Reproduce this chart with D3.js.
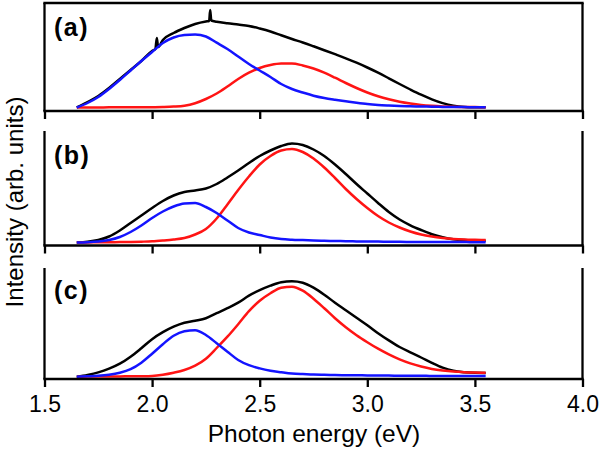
<!DOCTYPE html>
<html>
<head>
<meta charset="utf-8">
<script src="https://cdn.jsdelivr.net/npm/d3@7"></script>
<style>
  html, body { margin: 0; padding: 0; background: #fff; }
  svg { display: block; font-family: "Liberation Sans", Arial, Helvetica, sans-serif; }
</style>
</head>
<body>
<svg id="chart" width="600" height="449"></svg>
<script>
// ---------- data (intensity in arbitrary units) ----------
const energy = [1.65,1.70,1.75,1.80,1.85,1.90,1.95,2.00,2.05,2.10,2.15,2.20,2.25,2.30,2.35,2.40,2.45,2.50,2.55,2.60,2.65,2.70,2.75,2.80,2.85,2.90,2.95,3.00,3.05,3.10,3.15,3.20,3.25,3.30,3.35,3.40,3.45,3.50,3.55];

// panel (a) measured spectrum has two narrow spikes, so it carries its own energy grid
const energyBlackA = [1.65,1.70,1.75,1.80,1.85,1.90,1.95,2.00,2.015,2.022,2.028,2.05,2.10,2.15,2.20,2.25,2.265,2.27,2.275,2.30,2.35,2.40,2.45,2.50,2.55,2.60,2.65,2.70,2.75,2.80,2.85,2.90,2.95,3.00,3.05,3.10,3.15,3.20,3.25,3.30,3.35,3.40,3.45,3.50,3.55];
const blackA = [0,5.5,11.5,19.5,28.5,37.5,46.5,56.5,58.5,69.5,60.5,67.5,74.5,79.5,83.5,86,86.5,97.5,87,85.8,84.2,82.9,81.5,79,76,72.2,68.5,65,61.2,57.3,53.3,49.2,44.8,40,34.8,29.2,23.5,18,12.8,8.2,4.4,1.8,0.6,0.3,0.2];
const blueA  = [0,4.5,10.5,18.5,27.5,37,46.5,55.5,64.5,70,72.5,73,71,64.8,58.5,51,43.5,37,30.5,23.5,18.5,15,11.8,9.5,7.8,6.3,4.8,3.5,2.6,2,1.5,1.2,1,0.8,0.6,0.5,0.4,0.3,0.2];
const redA   = [0,0.1,0.1,0.15,0.2,0.2,0.25,0.3,0.5,0.9,1.8,4.3,8.5,14,21,28.5,34.8,39.5,42.5,44,44,42,39,34.8,29.8,24.5,19.5,15,11.2,8.2,5.8,4,2.6,1.7,1.1,0.7,0.5,0.4,0.3];

const blackB = [0,0.8,2.5,6,12,19.5,27,34.5,41.5,47,50.5,52,54,58.5,65,72,79.5,86.5,92,96.5,99,97.5,93,86.5,78,68.5,58.5,49,39.5,30.5,23,17.2,12.5,8.3,5.3,3.3,2.4,2,1.8];
const blueB  = [0,0.3,1,2.5,5.5,10.5,17,24.5,31,36,39,39.5,35.5,29.5,22,14.5,10,7.5,5,3.5,2.8,2.4,2,1.7,1.5,1.3,1.1,1,0.9,0.8,0.7,0.6,0.6,0.5,0.5,0.4,0.4,0.3,0.3];
const redB   = [0,0.1,0.2,0.3,0.4,0.5,0.8,1.2,2,3,4.5,8,13.5,24,38,52.5,66,78,86.5,92,93.5,90.5,84,75,64.5,53.5,43.5,34.5,26.5,20,15,11,8,6,4.6,3.6,3,2.7,2.5];

const blackC = [0,1.8,4.3,8,13,20,28.5,37.5,44.5,50,54,56,58.5,63.5,68.5,74,81,86.5,91,94.5,95.5,94,89,82,74,66.5,59,51.5,43.5,36.3,29.7,24.3,19.2,13.8,9,5.9,4.5,3.9,3.7];
const blueC  = [0,0.4,0.9,2,4,7.5,14,23,32.5,41,45.5,46.5,41.7,33.5,25,16.7,11.5,8.3,6,4.5,3.2,2.6,2.2,1.9,1.7,1.5,1.4,1.3,1.2,1.1,1,0.9,0.9,0.8,0.8,0.7,0.7,0.6,0.6];
const redC   = [0,0.1,0.15,0.2,0.3,0.4,0.5,0.8,2,4,6.7,11,18,28.7,40,52.5,65.5,76,83.5,89,90,86,78,68.5,58.5,49.5,41.5,34.5,28,22.3,17.3,13.3,10.2,7.8,6.2,5.1,4.5,4.2,4];

const panelLabels = ["(a)", "(b)", "(c)"];
const xTicks = [1.5, 2.0, 2.5, 3.0, 3.5, 4.0];
const xTitle = "Photon energy (eV)";
const yTitle = "Intensity (arb. units)";

// ---------- layout ----------
const svg = d3.select("#chart");
const x = d3.scaleLinear().domain([1.5, 4.0]).range([44.5, 582.5]);
const BLUE = "#1414ff", RED = "#ff1414", BLACK = "#000";

const panels = [
  { label: panelLabels[0], top: 3,     bottom: 111,   yDom: [-3.5, 104.5], boxTop: true,
    series: [ {e: energyBlackA, v: blackA, c: BLACK}, {e: energy, v: redA, c: RED}, {e: energy, v: blueA, c: BLUE} ],
    labelY: 35.5 },
  { label: panelLabels[1], top: 131,   bottom: 245.5, yDom: [-3, 111.5], boxTop: false,
    series: [ {e: energy, v: blackB, c: BLACK}, {e: energy, v: redB, c: RED}, {e: energy, v: blueB, c: BLUE} ],
    labelY: 163.5 },
  { label: panelLabels[2], top: 268,   bottom: 379,   yDom: [-2.3, 108.7], boxTop: false,
    series: [ {e: energy, v: blackC, c: BLACK}, {e: energy, v: redC, c: RED}, {e: energy, v: blueC, c: BLUE} ],
    labelY: 298.5 }
];

panels.forEach((p, i) => {
  const y = d3.scaleLinear().domain(p.yDom).range([p.bottom, p.top]);
  const g = svg.append("g");

  const line = d3.line()
    .x(d => x(d[0]))
    .y(d => y(d[1]))
    .curve(d3.curveMonotoneX);

  p.series.forEach(s => {
    const pts = s.e.map((e, k) => [e, s.v[k]]);
    g.append("path")
      .attr("d", line(pts))
      .attr("fill", "none")
      .attr("stroke", s.c)
      .attr("stroke-width", 2.5)
      .attr("stroke-linejoin", "round");
  });

  // frame: left & right sides
  [x.range()[0], x.range()[1]].forEach(px => {
    g.append("line")
      .attr("x1", px).attr("x2", px)
      .attr("y1", p.top).attr("y2", p.bottom)
      .attr("stroke", "#000").attr("stroke-width", 2.3);
  });
  if (p.boxTop) {
    g.append("line")
      .attr("x1", x.range()[0] - 1.15).attr("x2", x.range()[1] + 1.15)
      .attr("y1", p.top).attr("y2", p.top)
      .attr("stroke", "#000").attr("stroke-width", 2.3);
  }

  // bottom axis
  const axis = d3.axisBottom(x)
    .tickValues(xTicks)
    .tickSize(8)
    .tickSizeOuter(0)
    .tickFormat(i === 2 ? d3.format(".1f") : () => "");
  const ag = svg.append("g")
    .attr("transform", `translate(0,${p.bottom})`)
    .call(axis);
  ag.select(".domain").attr("stroke", "#000").attr("stroke-width", 2.3)
    .attr("d", `M${x.range()[0] - 1.15},0H${x.range()[1] + 1.15}`);
  ag.selectAll(".tick line").attr("stroke", "#000").attr("stroke-width", 2.3);
  ag.selectAll(".tick text")
    .attr("font-size", 23)
    .attr("font-family", "Liberation Sans, Arial, sans-serif")
    .attr("fill", "#000")
    .attr("dy", 0)
    .attr("y", 32.5);

  // panel label
  svg.append("text")
    .attr("x", 54)
    .attr("y", p.labelY)
    .attr("font-size", 25)
    .attr("font-weight", "bold")
    .attr("letter-spacing", 1.5)
    .attr("fill", "#000")
    .text(p.label);
});

// axis titles
svg.append("text")
  .attr("x", 314)
  .attr("y", 442)
  .attr("text-anchor", "middle")
  .attr("font-size", 24.5)
  .attr("fill", "#000")
  .text(xTitle);

svg.append("text")
  .attr("transform", "translate(23,202) rotate(-90)")
  .attr("text-anchor", "middle")
  .attr("font-size", 24)
  .attr("fill", "#000")
  .text(yTitle);
</script>
</body>
</html>
